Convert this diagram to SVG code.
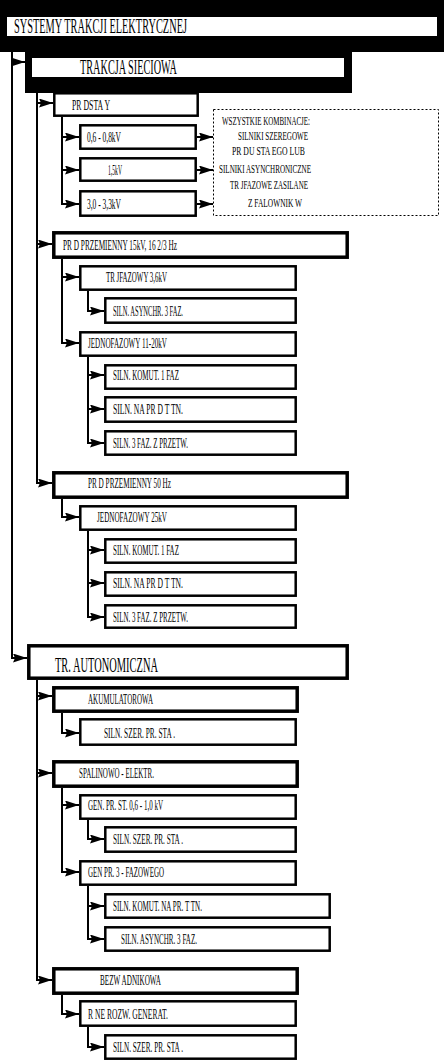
<svg xmlns="http://www.w3.org/2000/svg" width="444" height="1062" viewBox="0 0 444 1062">
<style>
.bx{fill:#fff;stroke:#000;stroke-width:2.5}
.bb{fill:#fff;stroke:#000;stroke-width:3.5}
.t{font-family:"Liberation Serif",serif;font-size:14px;fill:#000}
.s{font-family:"Liberation Serif",serif;font-size:11.5px;fill:#000}
.L{font-family:"Liberation Serif",serif;font-size:20px;fill:#000}
.c{fill:none;stroke:#000;stroke-width:2}
.d{fill:#fff;stroke:#000;stroke-width:1;stroke-dasharray:2,2}
</style>
<defs>
<marker id="ar" markerUnits="userSpaceOnUse" viewBox="0 0 14 9" refX="14" refY="4.5" markerWidth="14" markerHeight="9" orient="auto">
<path d="M0,0 L14,4.5 L0,9 L2,4.5 Z" fill="#000"/>
</marker>
</defs>
<rect width="444" height="1062" fill="#fff"/>
<g id="connectors">
<path class="c" d="M12,52 V62 H25" marker-end="url(#ar)"/>
<path class="c" d="M12,52 V658 H27" marker-end="url(#ar)"/>
<path class="c" d="M37,93 V103 H53" marker-end="url(#ar)"/>
<path class="c" d="M37,93 V244 H52" marker-end="url(#ar)"/>
<path class="c" d="M37,93 V483 H52" marker-end="url(#ar)"/>
<path class="c" d="M62,117 V137 H79" marker-end="url(#ar)"/>
<path class="c" d="M62,117 V170 H79" marker-end="url(#ar)"/>
<path class="c" d="M62,117 V204 H79" marker-end="url(#ar)"/>
<path class="c" d="M197,137 H213" marker-end="url(#ar)"/>
<path class="c" d="M197,170 H213" marker-end="url(#ar)"/>
<path class="c" d="M197,204 H213" marker-end="url(#ar)"/>
<path class="c" d="M62,259 V277 H79" marker-end="url(#ar)"/>
<path class="c" d="M62,259 V343 H79" marker-end="url(#ar)"/>
<path class="c" d="M88,291 V311 H104" marker-end="url(#ar)"/>
<path class="c" d="M88,357 V375 H104" marker-end="url(#ar)"/>
<path class="c" d="M88,357 V409 H104" marker-end="url(#ar)"/>
<path class="c" d="M88,357 V443 H104" marker-end="url(#ar)"/>
<path class="c" d="M62,499 V517 H79" marker-end="url(#ar)"/>
<path class="c" d="M88,531 V550 H104" marker-end="url(#ar)"/>
<path class="c" d="M88,531 V583 H104" marker-end="url(#ar)"/>
<path class="c" d="M88,531 V617 H104" marker-end="url(#ar)"/>
<path class="c" d="M37,680 V696 H52" marker-end="url(#ar)"/>
<path class="c" d="M37,680 V773 H52" marker-end="url(#ar)"/>
<path class="c" d="M37,680 V980 H52" marker-end="url(#ar)"/>
<path class="c" d="M62,713 V733 H79" marker-end="url(#ar)"/>
<path class="c" d="M62,788 V805 H79" marker-end="url(#ar)"/>
<path class="c" d="M62,788 V872 H79" marker-end="url(#ar)"/>
<path class="c" d="M88,820 V839 H104" marker-end="url(#ar)"/>
<path class="c" d="M88,886 V906 H104" marker-end="url(#ar)"/>
<path class="c" d="M88,886 V939 H104" marker-end="url(#ar)"/>
<path class="c" d="M62,995 V1014 H79" marker-end="url(#ar)"/>
<path class="c" d="M88,1027 V1047 H104" marker-end="url(#ar)"/>
</g>
<g id="n-systemy">
<rect x="0" y="0" width="444" height="52" fill="#000"/>
<rect x="7" y="17" width="430" height="19" fill="#fff"/>
<text class="L" x="14" y="33" font-size="19" textLength="173" lengthAdjust="spacingAndGlyphs">SYSTEMY TRAKCJI ELEKTRYCZNEJ</text>
</g>
<g id="n-trakcja">
<rect x="25" y="52" width="327" height="41" fill="#000"/>
<rect x="32" y="58" width="312" height="19" fill="#fff"/>
<text class="L" x="80" y="74" textLength="97" lengthAdjust="spacingAndGlyphs">TRAKCJA SIECIOWA</text>
</g>
<g id="n-pradstaly">
<rect class="bx" x="54.3" y="93.3" width="143.4" height="22.4"/>
<text class="t" x="72" y="109.5" textLength="38" lengthAdjust="spacingAndGlyphs">PR DSTA Y</text>
</g>
<g id="n-06">
<rect class="bx" x="80.3" y="125.3" width="115.4" height="23.4"/>
<text class="t" x="87" y="141.5" textLength="34" lengthAdjust="spacingAndGlyphs">0,6 - 0,8kV</text>
</g>
<g id="n-15">
<rect class="bx" x="80.3" y="158.3" width="115.4" height="22.4"/>
<text class="t" x="108" y="174.5" textLength="14" lengthAdjust="spacingAndGlyphs">1,5kV</text>
</g>
<g id="n-30">
<rect class="bx" x="80.3" y="191.3" width="115.4" height="24.4"/>
<text class="t" x="87" y="208.5" textLength="34" lengthAdjust="spacingAndGlyphs">3,0 - 3,3kV</text>
</g>
<g id="n-note">
<rect class="d" x="213.5" y="109.5" width="225" height="106"/>
<text class="s" x="222" y="125" textLength="88" lengthAdjust="spacingAndGlyphs">WSZYSTKIE KOMBINACJE:</text>
<text class="s" x="238" y="140" textLength="70" lengthAdjust="spacingAndGlyphs">SILNIKI SZEREGOWE</text>
<text class="s" x="232" y="155" textLength="73" lengthAdjust="spacingAndGlyphs">PR DU STA EGO LUB</text>
<text class="s" x="219" y="173" textLength="92" lengthAdjust="spacingAndGlyphs">SILNIKI ASYNCHRONICZNE</text>
<text class="s" x="230" y="189" textLength="78" lengthAdjust="spacingAndGlyphs">TR JFAZOWE ZASILANE</text>
<text class="s" x="248" y="207" textLength="54" lengthAdjust="spacingAndGlyphs">Z FALOWNIK W</text>
</g>
<g id="n-ac15">
<rect class="bb" x="53.8" y="232.8" width="293.4" height="24.4"/>
<text class="t" x="63" y="249.5" textLength="114" lengthAdjust="spacingAndGlyphs">PR D PRZEMIENNY 15kV, 16 2/3 Hz</text>
</g>
<g id="n-trojf36">
<rect class="bx" x="80.3" y="266.3" width="215.4" height="23.4"/>
<text class="t" x="106" y="281.5" textLength="61" lengthAdjust="spacingAndGlyphs">TR JFAZOWY 3,6kV</text>
</g>
<g id="n-asyn1">
<rect class="bx" x="105.3" y="298.3" width="190.4" height="24.4"/>
<text class="t" x="113" y="315.5" textLength="70" lengthAdjust="spacingAndGlyphs">SILN. ASYNCHR. 3 FAZ.</text>
</g>
<g id="n-jedn1120">
<rect class="bx" x="80.3" y="332.3" width="215.4" height="23.4"/>
<text class="t" x="88" y="347.5" textLength="79" lengthAdjust="spacingAndGlyphs">JEDNOFAZOWY 11-20kV</text>
</g>
<g id="n-komut1">
<rect class="bx" x="105.3" y="365.3" width="190.4" height="23.4"/>
<text class="t" x="113" y="380" textLength="66" lengthAdjust="spacingAndGlyphs">SILN. KOMUT. 1 FAZ</text>
</g>
<g id="n-tetn1">
<rect class="bx" x="105.3" y="397.3" width="190.4" height="24.4"/>
<text class="t" x="113" y="413.5" textLength="70" lengthAdjust="spacingAndGlyphs">SILN. NA PR D T TN.</text>
</g>
<g id="n-przetw1">
<rect class="bx" x="105.3" y="431.3" width="190.4" height="23.4"/>
<text class="t" x="113" y="447.5" textLength="75" lengthAdjust="spacingAndGlyphs">SILN. 3 FAZ. Z PRZETW.</text>
</g>
<g id="n-ac50">
<rect class="bb" x="53.8" y="472.8" width="293.4" height="24.4"/>
<text class="t" x="88" y="487.5" textLength="83" lengthAdjust="spacingAndGlyphs">PR D PRZEMIENNY 50 Hz</text>
</g>
<g id="n-jedn25">
<rect class="bx" x="80.3" y="506.3" width="215.4" height="23.4"/>
<text class="t" x="97" y="521.5" textLength="70" lengthAdjust="spacingAndGlyphs">JEDNOFAZOWY 25kV</text>
</g>
<g id="n-komut2">
<rect class="bx" x="105.3" y="539.3" width="190.4" height="23.4"/>
<text class="t" x="113" y="554.5" textLength="66" lengthAdjust="spacingAndGlyphs">SILN. KOMUT. 1 FAZ</text>
</g>
<g id="n-tetn2">
<rect class="bx" x="105.3" y="572.3" width="190.4" height="23.4"/>
<text class="t" x="113" y="587.5" textLength="70" lengthAdjust="spacingAndGlyphs">SILN. NA PR D T TN.</text>
</g>
<g id="n-przetw2">
<rect class="bx" x="105.3" y="605.3" width="190.4" height="22.4"/>
<text class="t" x="113" y="621.5" textLength="75" lengthAdjust="spacingAndGlyphs">SILN. 3 FAZ. Z PRZETW.</text>
</g>
<g id="n-auto">
<rect class="bb" x="28.8" y="645.8" width="318.4" height="32.4"/>
<text class="L" x="55" y="672" font-size="21" textLength="103" lengthAdjust="spacingAndGlyphs">TR. AUTONOMICZNA</text>
</g>
<g id="n-akum">
<rect class="bb" x="53.8" y="687.8" width="243.4" height="23.4"/>
<text class="t" x="88" y="703.5" textLength="65" lengthAdjust="spacingAndGlyphs">AKUMULATOROWA</text>
</g>
<g id="n-szer1">
<rect class="bx" x="80.3" y="719.3" width="215.4" height="25.4"/>
<text class="t" x="104" y="737.5" textLength="71" lengthAdjust="spacingAndGlyphs">SILN. SZER. PR. STA .</text>
</g>
<g id="n-spal">
<rect class="bb" x="53.8" y="761.8" width="243.4" height="24.4"/>
<text class="t" x="79" y="777.5" textLength="75" lengthAdjust="spacingAndGlyphs">SPALINOWO - ELEKTR.</text>
</g>
<g id="n-genst">
<rect class="bx" x="80.3" y="795.3" width="215.4" height="23.4"/>
<text class="t" x="88" y="809.5" textLength="75" lengthAdjust="spacingAndGlyphs">GEN. PR. ST. 0,6 - 1,0 kV</text>
</g>
<g id="n-szer2">
<rect class="bx" x="105.3" y="827.3" width="190.4" height="24.4"/>
<text class="t" x="113" y="843.5" textLength="70" lengthAdjust="spacingAndGlyphs">SILN. SZER. PR. STA .</text>
</g>
<g id="n-gen3">
<rect class="bx" x="80.3" y="861.3" width="215.4" height="23.4"/>
<text class="t" x="88" y="876.5" textLength="76" lengthAdjust="spacingAndGlyphs">GEN PR. 3 - FAZOWEGO</text>
</g>
<g id="n-komut3">
<rect class="bx" x="105.3" y="894.3" width="224.4" height="23.4"/>
<text class="t" x="113" y="910.5" textLength="89" lengthAdjust="spacingAndGlyphs">SILN. KOMUT. NA PR. T TN.</text>
</g>
<g id="n-asyn2">
<rect class="bx" x="105.3" y="927.3" width="224.4" height="23.4"/>
<text class="t" x="121" y="943.5" textLength="76" lengthAdjust="spacingAndGlyphs">SILN. ASYNCHR. 3 FAZ.</text>
</g>
<g id="n-bezw">
<rect class="bb" x="53.8" y="968.8" width="243.4" height="24.4"/>
<text class="t" x="100" y="984.5" textLength="61" lengthAdjust="spacingAndGlyphs">BEZW ADNIKOWA</text>
</g>
<g id="n-rozne">
<rect class="bx" x="80.3" y="1001.3" width="215.4" height="24.4"/>
<text class="t" x="88" y="1018.5" textLength="80" lengthAdjust="spacingAndGlyphs">R NE ROZW. GENERAT.</text>
</g>
<g id="n-szer3">
<rect class="bx" x="105.3" y="1035.3" width="190.4" height="23.4"/>
<text class="t" x="113" y="1051.5" textLength="70" lengthAdjust="spacingAndGlyphs">SILN. SZER. PR. STA .</text>
</g>
</svg>
